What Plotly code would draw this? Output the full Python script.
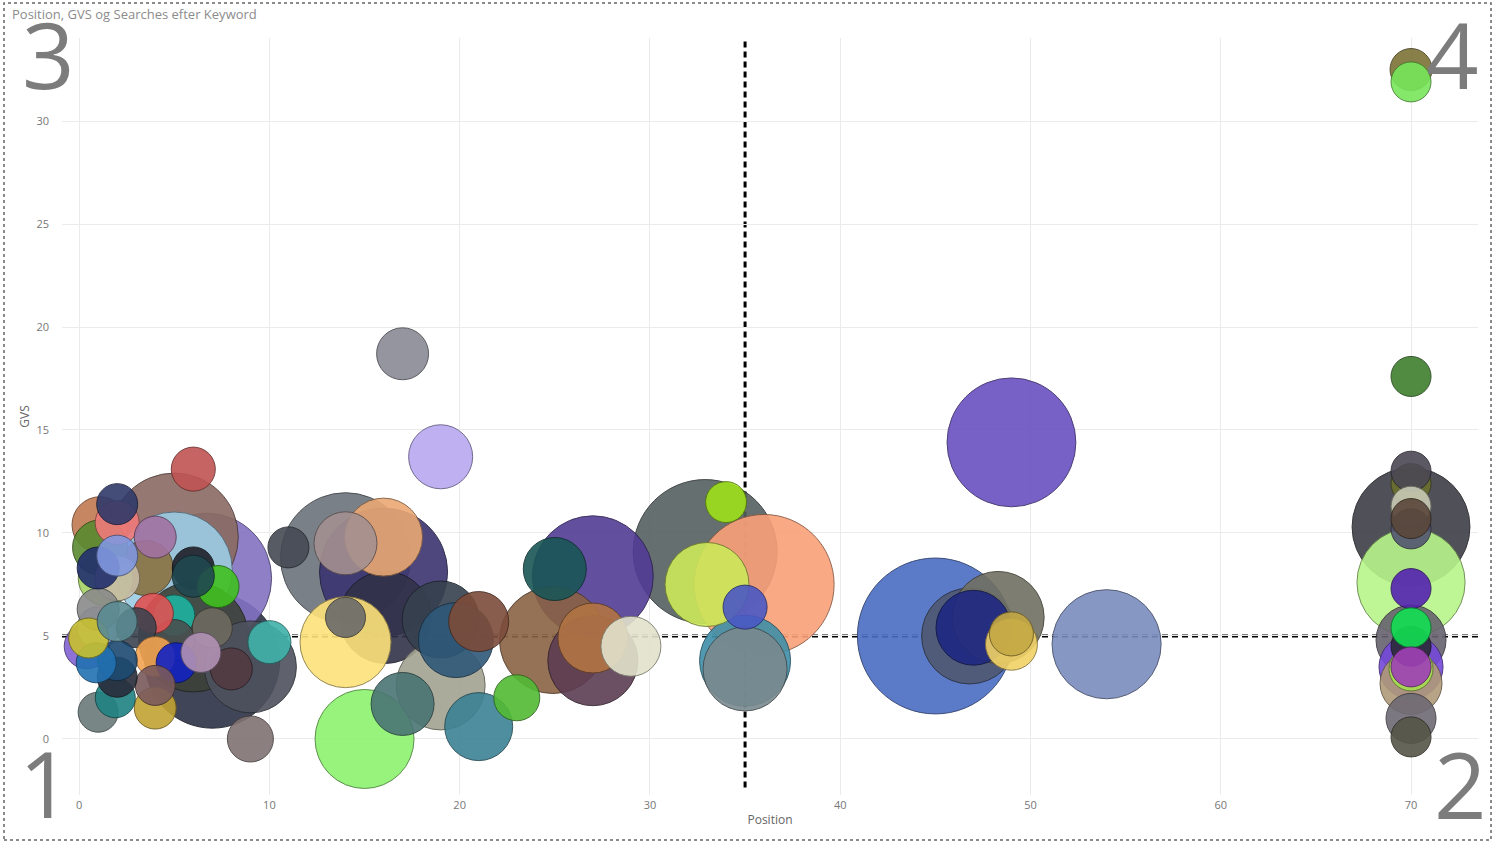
import plotly.graph_objects as go

# ---- data ----
position = [
    70, 70, 70, 70, 70, 70, 70, 70, 70, 70, 70, 70, 70, 70, 70, 70, 70, 70, 70, 70,
    49.0, 45.0, 48.3, 46.8, 47.0, 49.0, 49.0, 54.0,
    32.9, 36.0, 34.0, 33.0, 35.0, 35.0, 35.0,
    17.0, 19.0, 14.0, 16.0, 16.0, 14.0, 11.0, 16.1, 14.0, 14.0, 19.0, 19.8, 19.0,
    21.0, 17.0, 15.0, 21.0, 23.0, 24.9, 25.0, 27.0, 27.0, 27.0, 29.0, 9.0,
    6.0, 5.0, 5.0, 6.7, 7.0, 9.0, 6.0, 8.0, 10.0, 7.0, 5.0, 5.0, 3.9, 3.0, 4.0,
    5.1, 6.4, 4.0, 4.0, 1.0, 1.9, 2.0, 2.0, 0.9, 1.0, 0.4, 0.5, 1.0, 2.0, 1.0,
    2.0, 2.0, 3.5, 1.4, 1.1, 1.1, 2.0, 2.0, 4.0, 7.3, 6.0, 6.0,
]
gvs = [
    32.5, 31.9, 17.6, 10.3, 7.6, 12.4, 13.0, 11.3, 10.2, 10.7, 7.3, 4.8, 4.5, 5.4, 3.5, 3.4, 3.5, 2.7, 1.0, 0.1,
    14.4, 5.0, 5.9, 5.0, 5.4, 4.6, 5.1, 4.6,
    9.1, 7.5, 11.5, 7.5, 6.4, 3.8, 3.4,
    18.7, 13.7, 8.8, 8.1, 9.8, 9.5, 9.3, 5.9, 4.7, 5.9, 5.8, 4.8, 2.6,
    5.7, 1.7, 0.0, 0.6, 2.0, 4.8, 8.25, 7.9, 3.8, 4.9, 4.5, 0.0,
    13.1, 9.8, 8.2, 7.8, 3.8, 3.5, 4.95, 3.4, 4.7, 5.4, 6.0, 4.8, 6.1, 5.4, 4.0,
    3.7, 4.2, 2.6, 1.5, 1.3, 2.0, 3.0, 3.8, 3.7, 5.4, 4.5, 4.9, 6.3, 5.7, 8.3,
    8.9, 7.8, 8.3, 7.8, 9.3, 10.4, 10.5, 11.4, 9.8, 7.4, 7.9, 8.3,
]
searches = [
    1760, 1600, 1600, 13900, 11700, 1600, 1600, 1600, 1600, 1600, 1600, 4900, 1600, 1600, 4100, 1940, 1600, 3840, 2500, 1600,
    16600, 24300, 8460, 9200, 5600, 2700, 1940, 11900,
    20700, 19600, 1680, 7060, 1940, 8280, 7060,
    2700, 4100, 16900, 16400, 6080, 3970, 1680, 8460, 8280, 1600, 5930, 5620, 7920,
    3600, 3970, 9800, 4620, 2120, 11400, 3970, 14600, 8100, 4900, 3600, 2120,
    1940, 16400, 13500, 16900, 18200, 8460, 12100, 1760, 1850, 1600, 1680, 1680, 1600, 1600, 1600,
    1600, 1600, 1600, 1760, 1600, 1600, 1600, 1600, 1600, 1760, 2030, 1600, 1760, 1600, 1760,
    1680, 2030, 3020, 3020, 3020, 3140, 1940, 1680, 1760, 1764, 1764, 1765,
]
colors = [
    "#7d7336", "#78e65a", "#3f7f2e", "#3e3e46", "#b8f58a", "#6b7030", "#4b4854", "#c8cbb4", "#535570", "#5a473a",
    "#5422b0", "#67626e", "#2a2a38", "#12de52", "#7448d8", "#a6e050", "#a040b8", "#b09a78", "#6e6a74", "#565548",
    "#6a50c0", "#4a6cc2", "#707062", "#4e5870", "#1e2882", "#f2d266", "#c4a844", "#7a8cbe",
    "#566060", "#faa078", "#9ee01a", "#cce85a", "#4a58c4", "#3f8fa8", "#7a8a8e",
    "#8a8a96", "#b8a8f0", "#6c737c", "#3a3470", "#eaa874", "#a49090", "#454a54", "#32324a", "#fde27a", "#6a6a6a",
    "#36414e", "#2e5878", "#a2a292",
    "#7c4c3a", "#4a7474", "#8cf26e", "#3c8294", "#52ba34", "#8a6244", "#1a5656", "#523c94", "#5c3c52", "#b27444",
    "#e2e2cc", "#807272",
    "#c05454", "#8a6a62", "#9ccce4", "#8272c2", "#2c3246", "#4e525e", "#3c4238", "#523a42", "#40b2aa", "#6e6a60",
    "#1eb2a0", "#4a5050", "#e05252", "#3e4450", "#f2a452",
    "#1222c2", "#b292b4", "#7a5a5c", "#c2a234", "#6a7a7a", "#208282", "#282c3a", "#1e4a72", "#2272b2", "#aab6ea",
    "#8262d2", "#c8c030", "#8a8a8a", "#5a8a92", "#22306e",
    "#8098e0", "#c8bca6", "#8a7242", "#a2d262", "#5a8a30", "#c27a52", "#f07a7a", "#303a6a", "#a272a2", "#40c020",
    "#204850", "#1e2028",
]
keywords = [f"Keyword {i + 1}" for i in range(len(position))]

x_ticks = [0, 10, 20, 30, 40, 50, 60, 70]
y_ticks = [0, 5, 10, 15, 20, 25, 30]
x_ref_line = 35
y_ref_line = 5
quadrants = ["1", "2", "3", "4"]


def darken(hex_color, f=0.55):
    h = hex_color.lstrip("#")
    r, g, b = (int(h[i:i + 2], 16) for i in (0, 2, 4))
    return "#%02x%02x%02x" % (int(r * f), int(g * f), int(b * f))


# larger bubbles drawn first so small ones stay visible
order = sorted(range(len(position)), key=lambda i: -searches[i])

fig = go.Figure()
fig.add_trace(go.Scatter(
    x=[position[i] for i in order],
    y=[gvs[i] for i in order],
    text=[keywords[i] for i in order],
    mode="markers",
    marker=dict(
        size=[searches[i] for i in order],
        sizemode="area",
        sizeref=2,
        color=[colors[i] for i in order],
        opacity=0.9,
        line=dict(width=1, color=[darken(colors[i]) for i in order]),
    ),
    hovertemplate="%{text}<br>Position: %{x}<br>GVS: %{y}<extra></extra>",
    showlegend=False,
))

FONT = "Segoe UI, Open Sans, Noto Sans, sans-serif"

# layout geometry (pixels)
W, H = 1496, 844
L, R, T, B = 62, 1478, 38, 795


def px_x(px):
    return (px - L) / (R - L)


def px_y(py):
    return (B - py) / (B - T)


fig.update_layout(
    width=W, height=H,
    margin=dict(l=L, r=W - R, t=T, b=H - B, pad=0),
    paper_bgcolor="white",
    plot_bgcolor="white",
    font=dict(family=FONT, color="#777777", size=12),
    title=dict(
        text="Position, GVS og Searches efter Keyword",
        x=12 / W, xref="container", xanchor="left",
        y=1 - 14 / H, yref="container", yanchor="middle",
        font=dict(family=FONT, size=13, color="#8c8c8c"),
    ),
    xaxis=dict(
        range=[-0.9, 73.52],
        tickvals=x_ticks,
        showgrid=True, gridcolor="#ebebeb", gridwidth=1,
        zeroline=False, showline=False, ticks="",
        ticklabelstandoff=2,
        tickfont=dict(size=11, color="#777777"),
        title=dict(text="Position", standoff=4, font=dict(size=12, color="#666666")),
    ),
    yaxis=dict(
        range=[-2.72, 34.03],
        tickvals=y_ticks,
        showgrid=True, gridcolor="#ebebeb", gridwidth=1,
        zeroline=False, showline=False, ticks="",
        ticklabelstandoff=12,
        tickfont=dict(size=11, color="#777777"),
        title=dict(text="GVS", standoff=4, font=dict(size=12, color="#666666")),
    ),
    hovermode="closest",
)

# reference lines
fig.add_shape(type="line", xref="x", yref="paper", x0=x_ref_line, x1=x_ref_line, y0=0.01, y1=1,
              line=dict(color="black", width=3, dash="6px,4px"), layer="between")
fig.add_shape(type="line", xref="paper", yref="y", x0=0, x1=1, y0=y_ref_line, y1=y_ref_line,
              line=dict(color="black", width=3, dash="6px,4px"), layer="between")

# dotted frame around the visual
fig.add_shape(type="rect", xref="paper", yref="paper",
              x0=px_x(4), x1=px_x(1491), y0=px_y(840), y1=px_y(3),
              line=dict(color="#666666", width=1.5, dash="dot"), layer="above")

# quadrant numbers
quad_pos = {"3": (48, 54), "4": (1452, 54), "1": (45, 782), "2": (1460, 783)}
for q in quadrants:
    cx, cy = quad_pos[q]
    fig.add_annotation(
        text=q, xref="paper", yref="paper",
        x=px_x(cx), y=px_y(cy), xanchor="center", yanchor="middle",
        showarrow=False,
        font=dict(family=FONT, size=92, color="#7c7c7c"),
    )

fig.write_html(
    "out.html",
    config={"displayModeBar": False},
    post_script="document.body.style.margin='0';document.body.style.overflow='hidden';",
)
